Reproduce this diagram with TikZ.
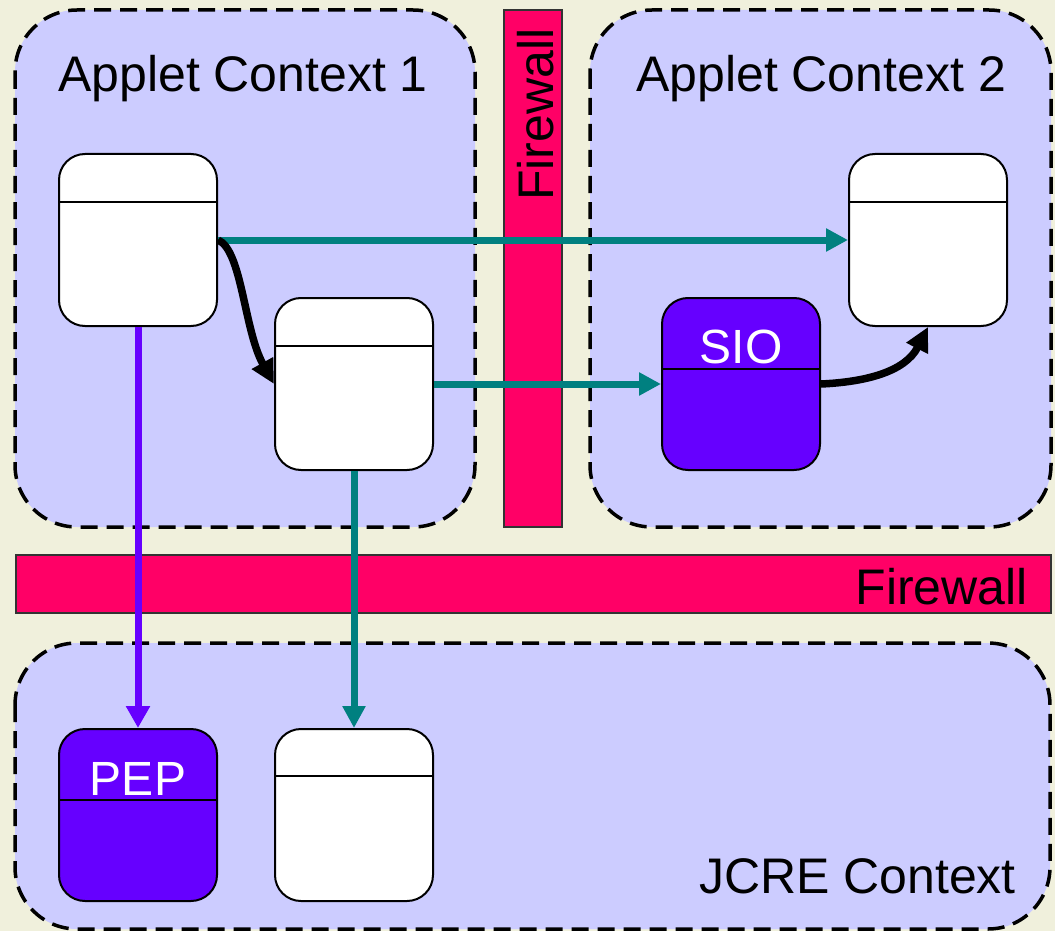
\documentclass[tikz,border=0pt]{standalone}
\usepackage{fontspec}
\setmainfont{Liberation Sans}
\usetikzlibrary{arrows.meta}
\definecolor{bgbeige}{RGB}{240,240,220}
\definecolor{ctxfill}{RGB}{204,204,255}
\definecolor{fwpink}{RGB}{255,0,102}
\definecolor{objpurple}{RGB}{102,0,255}
\definecolor{linkteal}{RGB}{0,128,128}
\tikzset{
  ctx/.style={draw=black, fill=ctxfill, line width=3.5pt, dash pattern=on 17pt off 9pt, rounded corners=62pt},
  fw/.style={draw=black!80, fill=fwpink, line width=1.5pt},
  big/.style={font=\fontsize{50}{60}\selectfont, inner sep=0pt},
  obj/.style={draw=black, fill=white, line width=2pt, rounded corners=26pt, minimum width=158pt, minimum height=172pt, inner sep=0pt},
  pobj/.style={obj, fill=objpurple},
  divline/.style={draw=black, line width=1.8pt},
  lbl/.style={font=\fontsize{48}{58}\selectfont, text=white, inner sep=0pt, anchor=base},
  tealarrow/.style={draw=linkteal, line width=7pt, -{Triangle[length=22pt,width=22pt]}},
  purplearrow/.style={draw=objpurple, line width=7pt, -{Triangle[length=22pt,width=23pt]}},
  blackarrow/.style={draw=black, line width=7.5pt, -{Triangle[length=24pt,width=23pt]}},
}
\begin{document}
\begin{tikzpicture}[x=1pt,y=-1pt]
\fill[bgbeige] (0,0) rectangle (1055,931);
\useasboundingbox (0,0) rectangle (1055,931);
% contexts
\path[ctx] (15,10) rectangle (475,527);
\path[ctx] (590,10) rectangle (1051,527);
\path[ctx] (15,643) rectangle (1050,929);
% firewalls
\path[fw] (504,10) rectangle (562,527);
\path[fw] (16,555) rectangle (1051,613);
\node[big, rotate=90, anchor=base west] (fwv) at (553,201) {Firewall};
\node[big, anchor=base east] (fwh) at (1028,604) {Firewall};
% context labels
\node[big, anchor=base west] (c1lbl) at (58,92) {Applet Context 1};
\node[big, anchor=base west] (c2lbl) at (636,92) {Applet Context 2};
\node[big, anchor=base east] (jlbl) at (1016,893) {JCRE Context};
% objects
\node[obj] (a1) at (138,240) {};
\node[obj] (b1) at (354,384) {};
\node[obj] (c2) at (928,240) {};
\node[pobj] (sio) at (741,384) {};
\node[pobj] (pep) at (138,815) {};
\node[obj] (jo) at (354,815) {};
% dividers
\draw[divline] (a1.west |- 0,202) -- (a1.east |- 0,202);
\draw[divline] (b1.west |- 0,346) -- (b1.east |- 0,346);
\draw[divline] (c2.west |- 0,202) -- (c2.east |- 0,202);
\draw[divline] (sio.west |- 0,369) -- (sio.east |- 0,369);
\draw[divline] (pep.west |- 0,800) -- (pep.east |- 0,800);
\draw[divline] (jo.west |- 0,776) -- (jo.east |- 0,776);
% object labels
\node[lbl] (siolbl) at (741,363) {SIO};
\node[lbl] (peplbl) at (138,795) {PEP};
% connectors
\draw[tealarrow] (a1.east) -- (c2.west);
\draw[tealarrow] (b1.east) -- (sio.west);
\draw[tealarrow] (b1.south) -- (jo.north);
\draw[purplearrow] (a1.south) -- (pep.north);
\draw[blackarrow] (a1.east) .. controls (242,250) and (244,330) .. (b1.west);
\draw[blackarrow] (sio.east) .. controls (865,382) and (905,372) .. (c2.south);
\end{tikzpicture}
\end{document}
